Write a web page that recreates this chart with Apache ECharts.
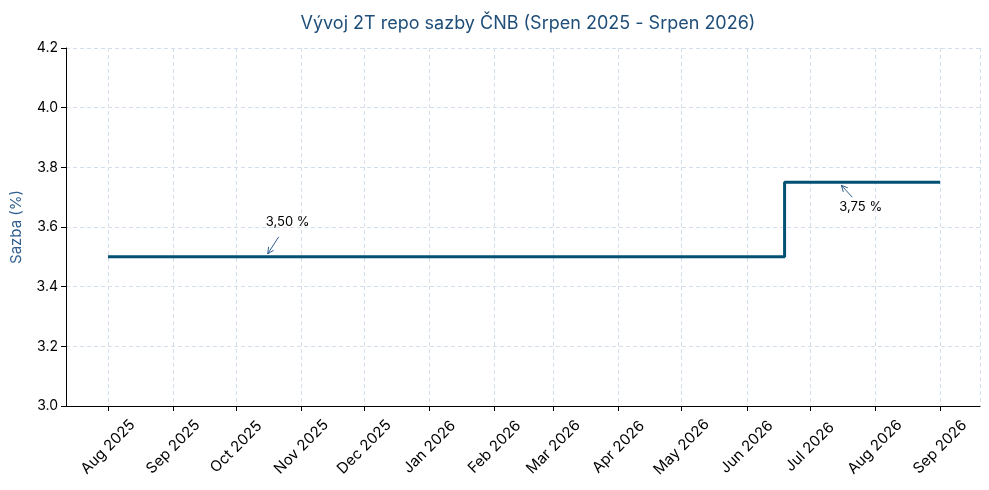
<!DOCTYPE html>
<html>
<head>
<meta charset="utf-8">
<script src="https://cdn.jsdelivr.net/npm/echarts@6/dist/echarts.min.js"></script>
<style>html,body{margin:0;padding:0;background:#fff}#c{width:989px;height:490px}</style>
</head>
<body>
<div id="c"></div>
<script>
// ---- data ----
const rateDates = ['2025-08-01', '2026-06-19', '2026-09-01'];
const rateValues = [3.50, 3.75, 3.75];
const annotationDates = ['2025-10-16', '2026-07-16'];
const annotationValues = [3.50, 3.75];
const annotationTexts = ['3,50 %', '3,75 %'];
const monthNames = ['Jan','Feb','Mar','Apr','May','Jun','Jul','Aug','Sep','Oct','Nov','Dec'];
const yTicks = [3.0, 3.2, 3.4, 3.6, 3.8, 4.0, 4.2];
const xMin = '2025-07-12';
const xMax = '2026-09-20';

const FONT = 'Inter';
const lineData = rateDates.map((d, i) => [d, rateValues[i]]);
const annData = annotationDates.map((d, i) => [d, annotationValues[i], i]);

const chart = echarts.init(document.getElementById('c'));
chart.setOption({
  animation: false,
  backgroundColor: '#fff',
  title: {
    text: 'Vývoj 2T repo sazby ČNB (Srpen 2025 - Srpen 2026)',
    left: 523, top: 10, textAlign: 'center',
    textStyle: { color: '#1f4e79', fontSize: 18, fontWeight: 'normal', fontFamily: FONT }
  },
  grid: { left: 66, right: 9, top: 48, bottom: 84, containLabel: false, outerBoundsMode: 'none' },
  xAxis: {
    type: 'time',
    min: xMin, max: xMax,
    minInterval: 28 * 86400000,
    maxInterval: 31 * 86400000,
    axisLine: { show: true, lineStyle: { color: '#000', width: 1 } },
    axisTick: { show: true, length: 5, lineStyle: { color: '#000' } },
    minorTick: { show: false },
    splitLine: { show: true, lineStyle: { color: '#d3dfec', type: [4, 3], width: 1 } },
    axisLabel: {
      rotate: 45, color: '#000', fontSize: 15, fontFamily: FONT,
      margin: 41, align: 'center', verticalAlign: 'middle',
      showMinLabel: false, showMaxLabel: false, hideOverlap: false,
      formatter: function (v) { const d = new Date(v); return monthNames[d.getMonth()] + ' ' + d.getFullYear(); }
    }
  },
  yAxis: {
    type: 'value', min: yTicks[0], max: yTicks[yTicks.length - 1], interval: 0.2,
    name: 'Sazba (%)', nameLocation: 'middle', nameGap: 42,
    nameTextStyle: { color: '#2f5f8f', fontSize: 15, fontFamily: FONT },
    axisLine: { show: true, lineStyle: { color: '#000', width: 1 } },
    axisTick: { show: true, length: 5, lineStyle: { color: '#000' } },
    splitLine: { show: true, lineStyle: { color: '#d3dfec', type: [4, 3], width: 1 } },
    axisLabel: { color: '#000', fontSize: 14, fontFamily: FONT, margin: 8, formatter: v => v.toFixed(1) }
  },
  series: [
    {
      type: 'line', step: 'end', data: lineData, showSymbol: false,
      lineStyle: { color: '#005073', width: 3 }, z: 3
    },
    {
      type: 'custom', data: annData, z: 5,
      renderItem: function (params, api) {
        const p = api.coord([api.value(0), api.value(1)]);
        const idx = api.value(2);
        const up = idx === 0;
        const tip = [p[0], p[1] + (up ? -3 : 3)];
        const tail = [p[0] + 11, p[1] + (up ? -20 : 15)];
        const ang = Math.atan2(tip[1] - tail[1], tip[0] - tail[0]);
        const hl = 7, ha = 0.45;
        const h1 = [tip[0] - hl * Math.cos(ang - ha), tip[1] - hl * Math.sin(ang - ha)];
        const h2 = [tip[0] - hl * Math.cos(ang + ha), tip[1] - hl * Math.sin(ang + ha)];
        return {
          type: 'group',
          children: [
            { type: 'line', shape: { x1: tail[0], y1: tail[1], x2: tip[0], y2: tip[1] }, style: { stroke: '#2f5f8f', lineWidth: 1 } },
            { type: 'polyline', shape: { points: [h1, tip, h2] }, style: { stroke: '#2f5f8f', lineWidth: 1, fill: null } },
            { type: 'text', x: p[0] - 2, y: p[1] + (up ? -35 : 25), style: { text: annotationTexts[idx], fill: '#000', fontSize: 13, fontFamily: FONT, align: 'left', verticalAlign: 'middle' } }
          ]
        };
      }
    }
  ]
});
</script>
</body>
</html>
